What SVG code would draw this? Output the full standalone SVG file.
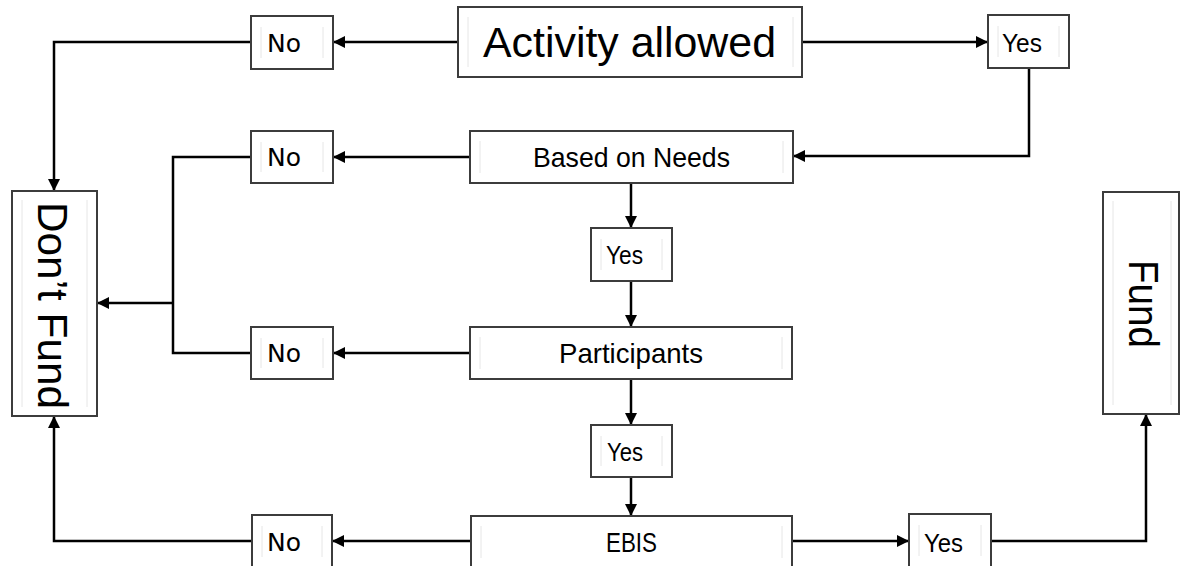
<svg xmlns="http://www.w3.org/2000/svg" width="1181" height="566" viewBox="0 0 1181 566">
<style>
.box{fill:#fff;stroke:#3c3c3c;stroke-width:2}
.inner{fill:none;stroke:#e6e6e6;stroke-width:1}
.cal{font-family:"Liberation Sans",Arial,sans-serif;fill:#000}
.dj{font-family:"DejaVu Sans",sans-serif;font-size:25px;fill:#000}
.conn{fill:none;stroke:#000;stroke-width:2.5}
</style>
<defs>
<marker id="ah" markerUnits="userSpaceOnUse" markerWidth="14" markerHeight="12" refX="12" refY="6" orient="auto">
<path d="M0,0 L12,6 L0,12 z" fill="#000"/>
</marker>
</defs>
<rect width="1181" height="566" fill="#fff"/>

<g id="connectors">
<path class="conn" d="M458,42 L333,42" marker-end="url(#ah)"/>
<path class="conn" d="M251,42 L54,42 L54,191" marker-end="url(#ah)"/>
<path class="conn" d="M802,42 L988,42" marker-end="url(#ah)"/>
<path class="conn" d="M1029,68 L1029,156 L793,156" marker-end="url(#ah)"/>
<path class="conn" d="M470,157 L333,157" marker-end="url(#ah)"/>
<path class="conn" d="M251,157 L173,157 L173,353 L251,353"/>
<path class="conn" d="M173,303 L97,303" marker-end="url(#ah)"/>
<path class="conn" d="M470,353 L333,353" marker-end="url(#ah)"/>
<path class="conn" d="M631,183 L631,228" marker-end="url(#ah)"/>
<path class="conn" d="M631,281 L631,327" marker-end="url(#ah)"/>
<path class="conn" d="M631,379 L631,425" marker-end="url(#ah)"/>
<path class="conn" d="M631,477 L631,516" marker-end="url(#ah)"/>
<path class="conn" d="M471,541 L332,541" marker-end="url(#ah)"/>
<path class="conn" d="M252,541 L54,541 L54,416" marker-end="url(#ah)"/>
<path class="conn" d="M792,541 L909,541" marker-end="url(#ah)"/>
<path class="conn" d="M991,541 L1146,541 L1146,414" marker-end="url(#ah)"/>
</g>

<g id="activity">
<rect class="box" x="458" y="7" width="344" height="70"/>
<path class="inner" d="M468,17 V67 M793,17 V67"/>
<text class="cal" x="483" y="57" font-size="43" textLength="293" lengthAdjust="spacingAndGlyphs">Activity allowed</text>
</g>

<g id="no1">
<rect class="box" x="251" y="16" width="82" height="53"/>
<path class="inner" d="M261,27 V58 M323,27 V58"/>
<text class="dj" x="267" y="52">No</text>
</g>

<g id="yes1">
<rect class="box" x="988" y="15" width="81" height="53"/>
<path class="inner" d="M998,26 V57 M1059,26 V57"/>
<text class="cal" x="1002" y="52" font-size="25" textLength="40" lengthAdjust="spacingAndGlyphs">Yes</text>
</g>

<g id="needs">
<rect class="box" x="470" y="131" width="323" height="52"/>
<path class="inner" d="M480,141 V173 M783,141 V173"/>
<text class="cal" x="533" y="167" font-size="28" textLength="197" lengthAdjust="spacingAndGlyphs">Based on Needs</text>
</g>

<g id="no2">
<rect class="box" x="251" y="131" width="82" height="52"/>
<path class="inner" d="M261,142 V172 M323,142 V172"/>
<text class="dj" x="267" y="166">No</text>
</g>

<g id="yes2">
<rect class="box" x="591" y="228" width="81" height="53"/>
<path class="inner" d="M601,239 V270 M662,239 V270"/>
<text class="cal" x="606" y="264" font-size="25" textLength="37" lengthAdjust="spacingAndGlyphs">Yes</text>
</g>

<g id="participants">
<rect class="box" x="470" y="327" width="322" height="52"/>
<path class="inner" d="M480,337 V369 M782,337 V369"/>
<text class="cal" x="559" y="363" font-size="28" textLength="144" lengthAdjust="spacingAndGlyphs">Participants</text>
</g>

<g id="no3">
<rect class="box" x="251" y="327" width="82" height="52"/>
<path class="inner" d="M261,338 V368 M323,338 V368"/>
<text class="dj" x="267" y="362">No</text>
</g>

<g id="yes3">
<rect class="box" x="591" y="425" width="81" height="52"/>
<path class="inner" d="M601,436 V466 M662,436 V466"/>
<text class="cal" x="607" y="461" font-size="25" textLength="36" lengthAdjust="spacingAndGlyphs">Yes</text>
</g>

<g id="ebis">
<rect class="box" x="471" y="516" width="321" height="52"/>
<path class="inner" d="M481,526 V558 M782,526 V558"/>
<text class="cal" x="606" y="552" font-size="28" textLength="51" lengthAdjust="spacingAndGlyphs">EBIS</text>
</g>

<g id="no4">
<rect class="box" x="252" y="515" width="80" height="53"/>
<path class="inner" d="M262,526 V557 M322,526 V557"/>
<text class="dj" x="267" y="551">No</text>
</g>

<g id="yes4">
<rect class="box" x="909" y="514" width="82" height="54"/>
<path class="inner" d="M919,525 V556 M981,525 V556"/>
<text class="cal" x="924" y="552" font-size="25" textLength="39" lengthAdjust="spacingAndGlyphs">Yes</text>
</g>

<g id="dontfund">
<rect class="box" x="12" y="191" width="85" height="225"/>
<path class="inner" d="M22,200 V407 M87,200 V407"/>
<text class="cal" transform="translate(38,202) rotate(90)" font-size="42" textLength="207" lengthAdjust="spacingAndGlyphs">Don’t Fund</text>
</g>

<g id="fund">
<rect class="box" x="1103" y="192" width="76" height="222"/>
<path class="inner" d="M1113,201 V405 M1171,201 V405"/>
<text class="cal" transform="translate(1129,260) rotate(90)" font-size="42" textLength="88" lengthAdjust="spacingAndGlyphs">Fund</text>
</g>
</svg>
